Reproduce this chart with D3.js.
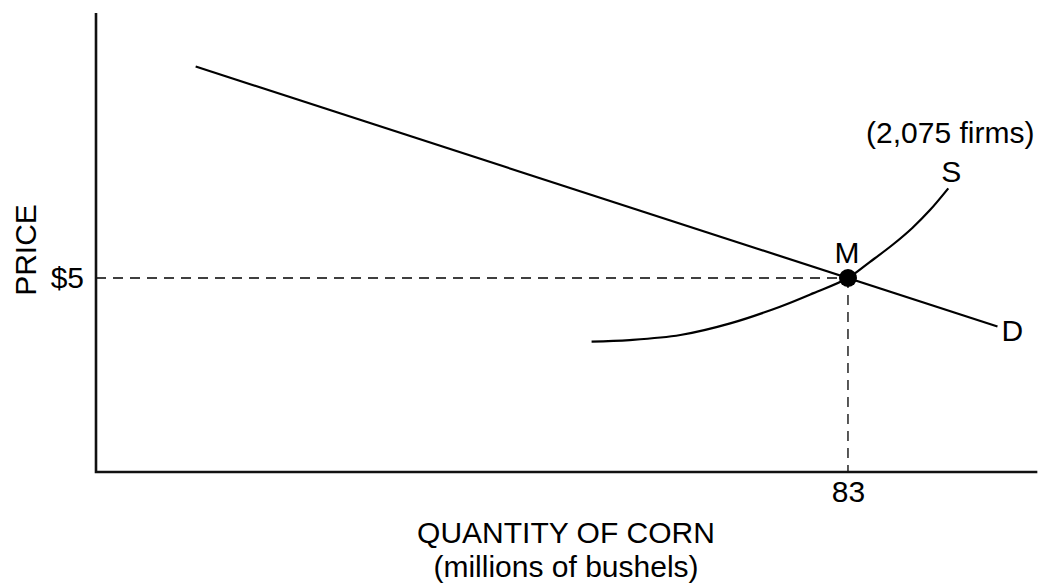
<!DOCTYPE html>
<html>
<head>
<meta charset="utf-8">
<script src="https://cdn.jsdelivr.net/npm/d3@7"></script>
<style>
  body { margin: 0; background: #fff; }
  text { font-family: "Liberation Sans", Arial, sans-serif; fill: #000; }
</style>
</head>
<body>
<div id="chart"></div>
<script>
// demand line (quantity, price)
const demandQ = [11, 99.5];
const demandP = [10.45, 3.75];

// supply curve
const supplyQ = [54.7, 58.9, 64.5, 70.0, 75.5, 79.2, 83, 85.4, 88.0, 90.1, 92.05, 94.07];
const supplyP = [3.36, 3.40, 3.53, 3.83, 4.26, 4.61, 5, 5.41, 5.87, 6.29, 6.75, 7.31];

// equilibrium
const eqQ = 83;
const eqP = 5;

const xTicks = [83];
const yTicks = [5];
const yTickLabels = ["$5"];

const width = 1042;
const height = 585;
const fontSize = 30;

const svg = d3.select("#chart")
    .append("svg")
    .attr("width", width)
    .attr("height", height);

// scales: origin at (96, 472)
const x = d3.scaleLinear().domain([0, 100]).range([96, 1002]);
const y = d3.scaleLinear().domain([0, 10]).range([472, 84]);

const xMax = 103.9;
const yMax = 11.83;

// dashed guides to the equilibrium
svg.append("line")
    .attr("x1", x(0)).attr("x2", x(eqQ))
    .attr("y1", y(eqP)).attr("y2", y(eqP))
    .attr("stroke", "#000")
    .attr("stroke-width", 1.3)
    .attr("stroke-dasharray", "10,7");

svg.append("line")
    .attr("x1", x(eqQ)).attr("x2", x(eqQ))
    .attr("y1", y(eqP)).attr("y2", y(0))
    .attr("stroke", "#000")
    .attr("stroke-width", 1.3)
    .attr("stroke-dasharray", "10,7");

// axes lines
svg.append("path")
    .attr("d", `M${x(0)},${y(yMax)}V${y(0)}H${x(xMax)}`)
    .attr("fill", "none")
    .attr("stroke", "#111")
    .attr("stroke-width", 2.6);

// tick labels through the d3 axes
const xAxis = svg.append("g")
    .attr("transform", `translate(0,${y(0)})`)
    .call(d3.axisBottom(x).tickValues(xTicks).tickSize(0).tickPadding(9));
xAxis.select(".domain").remove();
xAxis.selectAll("text")
    .attr("font-size", fontSize)
    .attr("font-family", "Liberation Sans, Arial, sans-serif");

const yAxis = svg.append("g")
    .attr("transform", `translate(${x(0)},0)`)
    .call(d3.axisLeft(y).tickValues(yTicks).tickFormat((d, i) => yTickLabels[i]).tickSize(0).tickPadding(12));
yAxis.select(".domain").remove();
yAxis.selectAll("text")
    .attr("font-size", fontSize)
    .attr("font-family", "Liberation Sans, Arial, sans-serif");

// demand
const line = d3.line()
    .x(d => x(d[0]))
    .y(d => y(d[1]));

svg.append("path")
    .datum(demandQ.map((q, i) => [q, demandP[i]]))
    .attr("fill", "none")
    .attr("stroke", "#000")
    .attr("stroke-width", 2.2)
    .attr("d", line);

// supply
svg.append("path")
    .datum(supplyQ.map((q, i) => [q, supplyP[i]]))
    .attr("fill", "none")
    .attr("stroke", "#000")
    .attr("stroke-width", 2.2)
    .attr("d", line.curve(d3.curveCatmullRom));

// equilibrium point
svg.append("circle")
    .attr("cx", x(eqQ))
    .attr("cy", y(eqP))
    .attr("r", 9)
    .attr("fill", "#000");

// labels
function label(txt, px, py, anchor) {
    svg.append("text")
        .attr("x", px)
        .attr("y", py)
        .attr("text-anchor", anchor || "middle")
        .attr("font-size", fontSize)
        .text(txt);
}

const sEnd = [x(supplyQ[supplyQ.length - 1]), y(supplyP[supplyP.length - 1])];

label("M", x(eqQ) - 1, y(eqP) - 15);
label("S", sEnd[0] + 3, sEnd[1] - 6);
label("(2,075 firms)", sEnd[0] + 2, sEnd[1] - 45);
label("D", x(demandQ[1]) + 4, y(demandP[1]) + 14, "start");

label("QUANTITY OF CORN", 566, 543);
label("(millions of bushels)", 566, 577);

svg.append("text")
    .attr("transform", `translate(36,250) rotate(-90)`)
    .attr("text-anchor", "middle")
    .attr("font-size", fontSize)
    .text("PRICE");
</script>
</body>
</html>
